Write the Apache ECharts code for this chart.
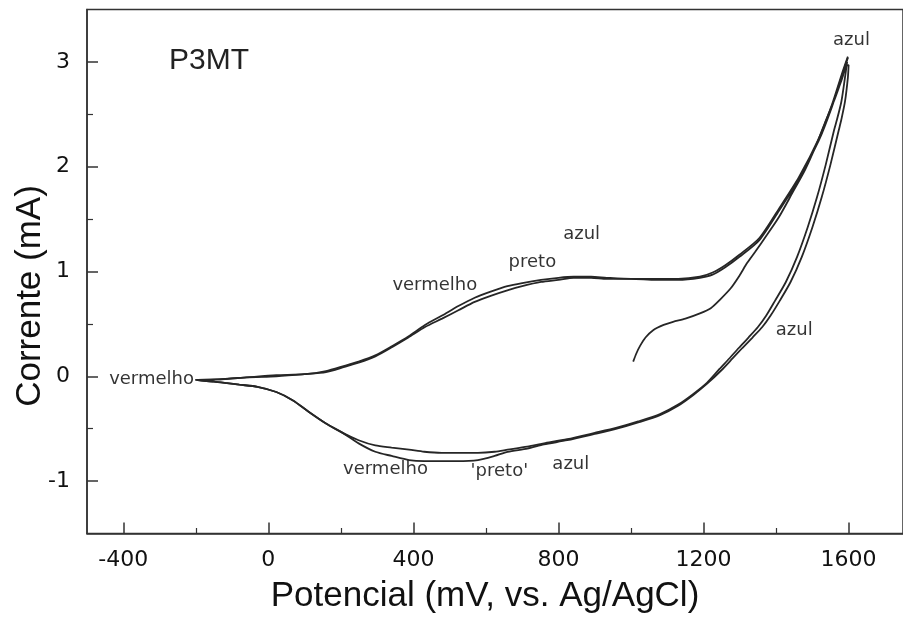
<!DOCTYPE html>
<html>
<head>
<meta charset="utf-8">
<script src="https://cdn.jsdelivr.net/npm/echarts@6/dist/echarts.min.js"></script>
<style>
  html, body { margin: 0; padding: 0; background: #fff; }
  #chart { width: 903px; height: 630px; }
</style>
</head>
<body>
<div id="chart"></div>
<script>
// ---------- data (mV, mA) ----------
const xMajorTicks = [-400, 0, 400, 800, 1200, 1600];
const xMinorTicks = [-200, 200, 600, 1000, 1400];
const yMajorTicks = [-1, 0, 1, 2, 3];
const yMinorTicks = [-0.5, 0.5, 1.5, 2.5];

// first anodic sweep starting at ~1000 mV
const firstScanX = [1006, 1015, 1025, 1040, 1061, 1090, 1116, 1150, 1190, 1220, 1245, 1275, 1299, 1320, 1343, 1375, 1408, 1445, 1480, 1510, 1535, 1560, 1581, 1597];
const firstScanY = [0.14, 0.22, 0.29, 0.37, 0.44, 0.49, 0.52, 0.55, 0.60, 0.65, 0.73, 0.84, 0.96, 1.08, 1.19, 1.35, 1.52, 1.75, 1.97, 2.20, 2.42, 2.63, 2.83, 2.97];

// cathodic sweep (vermelho)
const cathodicAX = [1600, 1598, 1590, 1580, 1573, 1550, 1526, 1500, 1471, 1440, 1410, 1385, 1362, 1335, 1307, 1280, 1250, 1210, 1171, 1130, 1080, 1020, 961, 900, 824, 760, 714, 660, 624, 578, 520, 478, 430, 388, 340, 295, 249, 205, 159, 112, 68, 22, -30, -80, -114, -150, -200];
const cathodicAY = [2.97, 2.85, 2.62, 2.45, 2.35, 2.02, 1.71, 1.42, 1.14, 0.90, 0.72, 0.58, 0.47, 0.37, 0.27, 0.17, 0.06, -0.07, -0.18, -0.28, -0.37, -0.44, -0.50, -0.55, -0.61, -0.65, -0.69, -0.72, -0.76, -0.80, -0.81, -0.81, -0.81, -0.80, -0.76, -0.72, -0.64, -0.54, -0.45, -0.34, -0.23, -0.15, -0.10, -0.08, -0.065, -0.05, -0.035];

// cathodic sweep (preto / azul)
const cathodicBX = [1596, 1590, 1580, 1568, 1560, 1537, 1513, 1487, 1458, 1427, 1397, 1373, 1350, 1324, 1297, 1271, 1244, 1210, 1171, 1130, 1080, 1020, 961, 900, 824, 760, 714, 660, 624, 578, 520, 478, 430, 388, 340, 295, 249, 205, 159, 112, 68, 22, -30, -80, -114, -150, -200];
const cathodicBY = [3.00, 2.85, 2.62, 2.45, 2.35, 2.02, 1.71, 1.42, 1.14, 0.90, 0.72, 0.58, 0.47, 0.37, 0.27, 0.17, 0.07, -0.06, -0.17, -0.27, -0.36, -0.43, -0.49, -0.54, -0.60, -0.64, -0.67, -0.70, -0.72, -0.73, -0.73, -0.73, -0.72, -0.70, -0.68, -0.66, -0.61, -0.54, -0.45, -0.34, -0.23, -0.15, -0.10, -0.08, -0.065, -0.05, -0.035];

// anodic sweeps
const anodicX  = [-200, -140, -60, 22, 100, 159, 210, 249, 295, 342, 386, 432, 479, 524, 569, 615, 659, 700, 752, 800, 842, 890, 933, 1000, 1069, 1130, 1190, 1225, 1260, 1299, 1354, 1408, 1463, 1518, 1554, 1581, 1598];
const anodicAY = [-0.03, -0.03, -0.01, 0.00, 0.02, 0.04, 0.09, 0.13, 0.19, 0.28, 0.37, 0.47, 0.55, 0.63, 0.71, 0.77, 0.82, 0.86, 0.90, 0.92, 0.94, 0.94, 0.93, 0.93, 0.92, 0.92, 0.94, 0.97, 1.04, 1.14, 1.30, 1.58, 1.88, 2.25, 2.57, 2.86, 3.04];
const anodicBY = [-0.03, -0.03, -0.01, 0.01, 0.02, 0.05, 0.10, 0.14, 0.20, 0.29, 0.38, 0.49, 0.58, 0.67, 0.75, 0.81, 0.86, 0.89, 0.92, 0.94, 0.95, 0.95, 0.94, 0.93, 0.93, 0.93, 0.95, 0.99, 1.06, 1.16, 1.32, 1.60, 1.90, 2.27, 2.59, 2.88, 3.05];

// annotations (text, x in mV, y in mA, alignment)
const annotTexts = ['vermelho', 'vermelho', 'preto', 'azul', 'azul', 'azul', 'vermelho', "'preto'", 'azul'];
const annotX     = [-205, 459, 728, 864, 1608, 1450, 323, 637, 834];
const annotY     = [-0.03, 0.87, 1.09, 1.35, 3.21, 0.44, -0.89, -0.91, -0.84];
const annotAlign = ['right', 'center', 'center', 'center', 'center', 'center', 'center', 'center', 'center'];

const titleText = 'P3MT';
const xTitle = 'Potencial (mV, vs. Ag/AgCl)';
const yTitle = 'Corrente (mA)';

// ---------- build ----------
function zip(xs, ys) { return xs.map((x, i) => [x, ys[i]]); }

const vermelhoData = zip(firstScanX, firstScanY)
  .concat(zip(cathodicAX, cathodicAY))
  .concat(zip(anodicX, anodicAY));
const pretoData = zip(cathodicBX, cathodicBY)
  .concat(zip(anodicX, anodicBY));

const annotData = annotTexts.map((t, i) => ({
  name: t,
  value: [annotX[i], annotY[i]],
  label: { align: annotAlign[i] }
}));

const axisColor = '#333';
const textColor = '#111';
const tickFont = 'DejaVu Sans';

const chart = echarts.init(document.getElementById('chart'), null, { renderer: 'canvas' });

const lineStyle = { color: '#262626', width: 1.8 };
const plain = v => String(v);

chart.setOption({
  backgroundColor: '#ffffff',
  animation: false,
  grid: {
    left: 87, top: 9.5, right: -9, bottom: 96.5,
    show: true, borderColor: axisColor, borderWidth: 1.5, backgroundColor: 'transparent'
  },
  xAxis: [
    {
      type: 'value', min: -500, max: 1750, position: 'bottom',
      axisLine: { show: true, onZero: false, lineStyle: { color: axisColor, width: 1.5 } },
      axisTick: { show: true, inside: true, length: 11, customValues: xMajorTicks, lineStyle: { color: axisColor, width: 1.5 } },
      axisLabel: { show: true, customValues: xMajorTicks, formatter: plain, margin: 16, fontFamily: tickFont, fontSize: 22, color: textColor },
      splitLine: { show: false }
    },
    {
      type: 'value', min: -500, max: 1750, position: 'bottom',
      axisLine: { show: false, onZero: false },
      axisTick: { show: true, inside: true, length: 5.5, customValues: xMinorTicks, lineStyle: { color: axisColor, width: 1.2 } },
      axisLabel: { show: false },
      splitLine: { show: false }
    }
  ],
  yAxis: [
    {
      type: 'value', min: -1.5, max: 3.5, position: 'left',
      axisLine: { show: true, onZero: false, lineStyle: { color: axisColor, width: 1.5 } },
      axisTick: { show: true, inside: true, length: 11, customValues: yMajorTicks, lineStyle: { color: axisColor, width: 1.5 } },
      axisLabel: { show: true, customValues: yMajorTicks, formatter: plain, margin: 17, fontFamily: tickFont, fontSize: 22, color: textColor },
      splitLine: { show: false }
    },
    {
      type: 'value', min: -1.5, max: 3.5, position: 'left',
      axisLine: { show: false, onZero: false },
      axisTick: { show: true, inside: true, length: 6, customValues: yMinorTicks, lineStyle: { color: axisColor, width: 1.2 } },
      axisLabel: { show: false },
      splitLine: { show: false }
    }
  ],
  series: [
    {
      name: 'vermelho', type: 'line', xAxisIndex: 0, yAxisIndex: 0,
      data: vermelhoData, showSymbol: false, smooth: 0.25, lineStyle: lineStyle, silent: true
    },
    {
      name: 'preto', type: 'line', xAxisIndex: 0, yAxisIndex: 0,
      data: pretoData, showSymbol: false, smooth: 0.25, lineStyle: lineStyle, silent: true
    },
    {
      name: 'anotacoes', type: 'scatter', xAxisIndex: 0, yAxisIndex: 0,
      data: annotData, symbolSize: 0, silent: true,
      label: {
        show: true, position: 'inside', formatter: p => p.name,
        fontFamily: tickFont, fontSize: 18, color: '#000', verticalAlign: 'middle'
      },
      emphasis: { disabled: true }
    }
  ],
  graphic: [
    {
      type: 'text', x: 209, y: 61,
      style: { text: titleText, font: '30px "Liberation Sans", Arial, sans-serif', fill: '#222', align: 'center', verticalAlign: 'middle' }
    },
    {
      type: 'text', x: 485, y: 596,
      style: { text: xTitle, font: '35px "Liberation Sans", Arial, sans-serif', fill: textColor, align: 'center', verticalAlign: 'middle' }
    },
    {
      type: 'text', x: 30, y: 296, rotation: Math.PI / 2,
      style: { text: yTitle, font: '35px "Liberation Sans", Arial, sans-serif', fill: textColor, align: 'center', verticalAlign: 'middle' }
    }
  ]
});
</script>
</body>
</html>
